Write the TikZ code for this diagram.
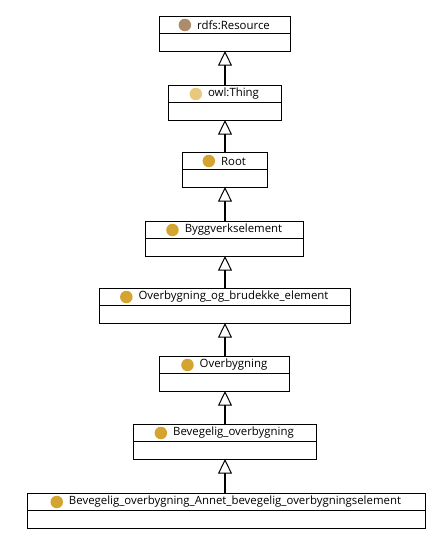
\documentclass[tikz,border=0pt]{standalone}
\usepackage{fontspec}
\setmainfont{Open Sans}
\usetikzlibrary{arrows.meta}
\definecolor{resbrown}{HTML}{AC8C6C}
\definecolor{thinglight}{HTML}{E8C87C}
\definecolor{clsgold}{HTML}{D4A430}
\tikzset{
  cls/.style={draw=black, line width=0.75pt, fill=white, minimum width=#1*0.75pt, minimum height=35*0.75pt, inner sep=0pt, outer sep=0pt},
  lbl/.style={font=\fontsize{8.55pt}{10pt}\selectfont, inner sep=0pt, anchor=center},
  dot/.style={circle, fill=#1, minimum size=12.5*0.75pt, inner sep=0pt},
  isa/.style={line width=1.6pt, -{Triangle[open, length=11pt, width=10.5pt, line width=0.75pt]}},
}
\begin{document}
\begin{tikzpicture}[x=0.75pt, y=-0.75pt]
\useasboundingbox (0,0) rectangle (443,539);
\fill[white] (0,0) rectangle (443,539);
% boxes
\node[cls=131] (b1) at (224.5,33.5) {};
\node[cls=113] (b2) at (224.5,102.5) {};
\node[cls=85]  (b3) at (224.5,169.5) {};
\node[cls=158] (b4) at (224.5,238.5) {};
\node[cls=251] (b5) at (224.5,305.5) {};
\node[cls=130] (b6) at (224.5,373.5) {};
\node[cls=183] (b7) at (224.5,441.5) {};
\node[cls=398] (b8) at (226,510.5) {};
% dividers
\foreach \b in {b1,b2,b3,b4,b5,b6,b7,b8} {
  \draw[line width=0.75pt] (\b.west) -- (\b.east);
}
% labels
\node[lbl] (t1) at ([xshift=9*0.75pt, yshift=-9*0.75pt]b1.north) {rdfs:Resource};
\node[lbl] (t2) at ([xshift=9*0.75pt, yshift=-9*0.75pt]b2.north) {owl:Thing};
\node[lbl] (t3) at ([xshift=9*0.75pt, yshift=-9*0.75pt]b3.north) {Root};
\node[lbl] (t4) at ([xshift=9*0.75pt, yshift=-9*0.75pt]b4.north) {Byggverkselement};
\node[lbl] (t5) at ([xshift=9*0.75pt, yshift=-9*0.75pt]b5.north) {Overbygning\_og\_brudekke\_element};
\node[lbl] (t6) at ([xshift=9*0.75pt, yshift=-9*0.75pt]b6.north) {Overbygning};
\node[lbl] (t7) at ([xshift=9*0.75pt, yshift=-9*0.75pt]b7.north) {Bevegelig\_overbygning};
\node[lbl] (t8) at ([xshift=9*0.75pt, yshift=-9*0.75pt]b8.north) {Bevegelig\_overbygning\_Annet\_bevegelig\_overbygningselement};
% dots
\node[dot=resbrown]   (d1) at ([xshift=-12*0.75pt]t1.west) {};
\node[dot=thinglight] (d2) at ([xshift=-12*0.75pt]t2.west) {};
\node[dot=clsgold]    (d3) at ([xshift=-12*0.75pt]t3.west) {};
\node[dot=clsgold]    (d4) at ([xshift=-12*0.75pt]t4.west) {};
\node[dot=clsgold]    (d5) at ([xshift=-12*0.75pt]t5.west) {};
\node[dot=clsgold]    (d6) at ([xshift=-12*0.75pt]t6.west) {};
\node[dot=clsgold]    (d7) at ([xshift=-12*0.75pt]t7.west) {};
\node[dot=clsgold]    (d8) at ([xshift=-12*0.75pt]t8.west) {};
% connectors
\draw[isa] ([xshift=0.5*0.75pt]b2.north) -- ([xshift=0.5*0.75pt]b1.south);
\draw[isa] ([xshift=0.5*0.75pt]b3.north) -- ([xshift=0.5*0.75pt]b2.south);
\draw[isa] ([xshift=0.5*0.75pt]b4.north) -- ([xshift=0.5*0.75pt]b3.south);
\draw[isa] ([xshift=0.5*0.75pt]b5.north) -- ([xshift=0.5*0.75pt]b4.south);
\draw[isa] ([xshift=0.5*0.75pt]b6.north) -- ([xshift=0.5*0.75pt]b5.south);
\draw[isa] ([xshift=0.5*0.75pt]b7.north) -- ([xshift=0.5*0.75pt]b6.south);
\draw[isa] ([xshift=-1*0.75pt]b8.north) -- ([xshift=0.5*0.75pt]b7.south);
\end{tikzpicture}
\end{document}
